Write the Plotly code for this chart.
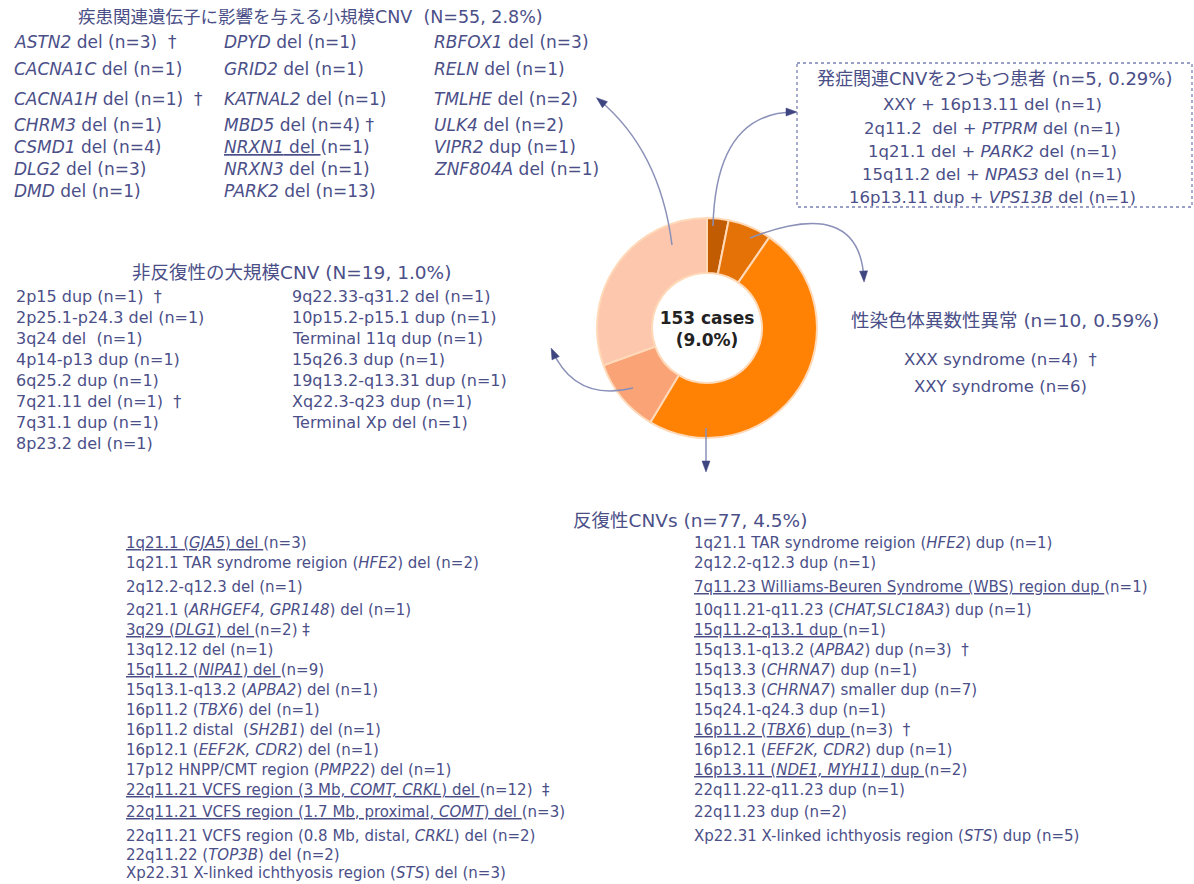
import math
import plotly.graph_objects as go

W, H = 1194, 884
TXT = "#4b4f88"
FONT = "DejaVu Sans, Noto Sans CJK JP"

# ---- donut data ----
slice_labels = ["発症関連CNVを2つもつ患者", "性染色体異数性異常", "反復性CNVs",
                "非反復性の大規模CNV", "疾患関連遺伝子に影響を与える小規模CNV"]
slice_pct = [0.29, 0.59, 4.5, 1.0, 2.8]
slice_colors = ["#c25c02", "#e57206", "#ff8205", "#f9a377", "#fdc7ae"]
center_text = "<b>153 cases<br>(9.0%)</b>"

# ---- text blocks ----
small_title = "疾患関連遺伝子に影響を与える小規模CNV  (N=55, 2.8%)"
small_col1 = ["<i>ASTN2</i> del (n=3)  †", "<i>CACNA1C</i> del (n=1)", "<i>CACNA1H</i> del (n=1)  †",
              "<i>CHRM3</i> del (n=1)", "<i>CSMD1</i> del (n=4)", "<i>DLG2</i> del (n=3)", "<i>DMD</i> del (n=1)"]
small_col2 = ["<i>DPYD</i> del (n=1)", "<i>GRID2</i> del (n=1)", "<i>KATNAL2</i> del (n=1)",
              "<i>MBD5</i> del (n=4) †", "<u><i>NRXN1</i> del </u>(n=1)", "<i>NRXN3</i> del (n=1)",
              "<i>PARK2</i> del (n=13)"]
small_col3 = ["<i>RBFOX1</i> del (n=3)", "<i>RELN</i> del (n=1)", "<i>TMLHE</i> del (n=2)",
              "<i>ULK4</i> del (n=2)", "<i>VIPR2</i> dup (n=1)", "<i>ZNF804A</i> del (n=1)"]
small_rows = [42, 69, 99, 125, 147, 169, 191]

two_title = "発症関連CNVを2つもつ患者 (n=5, 0.29%)"
two_lines = ["XXY + 16p13.11 del (n=1)", "2q11.2  del + <i>PTPRM</i> del (n=1)",
             "1q21.1 del + <i>PARK2</i> del (n=1)", "15q11.2 del + <i>NPAS3</i> del (n=1)",
             "16p13.11 dup + <i>VPS13B</i> del (n=1)"]
two_rows = [104, 128, 151, 174, 197]

large_title = "非反復性の大規模CNV (N=19, 1.0%)"
large_col1 = ["2p15 dup (n=1)  †", "2p25.1-p24.3 del (n=1)", "3q24 del  (n=1)", "4p14-p13 dup (n=1)",
              "6q25.2 dup (n=1)", "7q21.11 del (n=1)  †", "7q31.1 dup (n=1)", "8p23.2 del (n=1)"]
large_col2 = ["9q22.33-q31.2 del (n=1)", "10p15.2-p15.1 dup (n=1)", "Terminal 11q dup (n=1)",
              "15q26.3 dup (n=1)", "19q13.2-q13.31 dup (n=1)", "Xq22.3-q23 dup (n=1)",
              "Terminal Xp del (n=1)"]
large_rows = [296, 317, 338, 359, 380, 401, 422, 443]

sex_title = "性染色体異数性異常 (n=10, 0.59%)"
sex_lines = ["XXX syndrome (n=4)  †", "XXY syndrome (n=6)"]
sex_rows = [359, 386]

rec_title = "反復性CNVs (n=77, 4.5%)"
rec_left = ["<u>1q21.1 (<i>GJA5</i>) del </u>(n=3)",
            "1q21.1 TAR syndrome reigion (<i>HFE2</i>) del (n=2)",
            "2q12.2-q12.3 del (n=1)",
            "2q21.1 (<i>ARHGEF4, GPR148</i>) del (n=1)",
            "<u>3q29 (<i>DLG1</i>) del </u>(n=2) ‡",
            "13q12.12 del (n=1)",
            "<u>15q11.2 (<i>NIPA1</i>) del </u>(n=9)",
            "15q13.1-q13.2 (<i>APBA2</i>) del (n=1)",
            "16p11.2 (<i>TBX6</i>) del (n=1)",
            "16p11.2 distal  (<i>SH2B1</i>) del (n=1)",
            "16p12.1 (<i>EEF2K, CDR2</i>) del (n=1)",
            "17p12 HNPP/CMT region (<i>PMP22</i>) del (n=1)",
            "<u>22q11.21 VCFS region (3 Mb, <i>COMT, CRKL</i>) del </u>(n=12)  ‡",
            "<u>22q11.21 VCFS region (1.7 Mb, proximal, <i>COMT</i>) del </u>(n=3)",
            "22q11.21 VCFS region (0.8 Mb, distal, <i>CRKL</i>) del (n=2)",
            "22q11.22 (<i>TOP3B</i>) del (n=2)",
            "Xp22.31 X-linked ichthyosis region (<i>STS</i>) del (n=3)"]
rec_left_rows = [543, 563, 587, 610, 630, 650, 670, 690, 710, 730, 750, 770, 790, 812, 836, 855, 873]
rec_right = ["1q21.1 TAR syndrome reigion (<i>HFE2</i>) dup (n=1)",
             "2q12.2-q12.3 dup (n=1)",
             "<u>7q11.23 Williams-Beuren Syndrome (WBS) region dup </u>(n=1)",
             "10q11.21-q11.23 (<i>CHAT,SLC18A3</i>) dup (n=1)",
             "<u>15q11.2-q13.1 dup </u>(n=1)",
             "15q13.1-q13.2 (<i>APBA2</i>) dup (n=3)  †",
             "15q13.3 (<i>CHRNA7</i>) dup (n=1)",
             "15q13.3 (<i>CHRNA7</i>) smaller dup (n=7)",
             "15q24.1-q24.3 dup (n=1)",
             "<u>16p11.2 (<i>TBX6</i>) dup </u>(n=3)  †",
             "16p12.1 (<i>EEF2K, CDR2</i>) dup (n=1)",
             "<u>16p13.11 (<i>NDE1, MYH11</i>) dup </u>(n=2)",
             "22q11.22-q11.23 dup (n=1)",
             "22q11.23 dup (n=2)",
             "Xp22.31 X-linked ichthyosis region (<i>STS</i>) dup (n=5)"]
rec_right_rows = [543, 563, 587, 610, 630, 650, 670, 690, 710, 730, 750, 770, 790, 812, 836]

# ---- figure ----
cx, cy, R = 707, 328, 110
fig = go.Figure()
fig.add_trace(go.Pie(
    labels=slice_labels, values=slice_pct, sort=False, direction="clockwise", rotation=0,
    hole=0.5, textinfo="none", hoverinfo="label+value", showlegend=False,
    marker=dict(colors=slice_colors, line=dict(color="#ffd9b8", width=2)),
    title=dict(text=center_text, position="middle center",
               font=dict(family="DejaVu Sans", size=17, color="#222222")),
    domain=dict(x=[(cx - R) / W, (cx + R) / W], y=[1 - (cy + R) / H, 1 - (cy - R) / H]),
))

ann = []


def txt(x, y, s, size, anchor="left", color=TXT):
    ann.append(dict(x=x, y=y, xref="x", yref="y", text=s, showarrow=False,
                    xanchor=anchor, yanchor="middle", align=anchor,
                    font=dict(family=FONT, size=size, color=color)))


txt(310, 17, small_title, 17.5, "center")
for col, x in ((small_col1, 12), (small_col2, 222), (small_col3, 432)):
    for s, y in zip(col, small_rows):
        txt(x, y, s, 17)

txt(994, 78, two_title, 18, "center")
for s, y in zip(two_lines, two_rows):
    txt(992, y, s, 16.5, "center")

txt(291, 272, large_title, 18.5, "center")
for s, y in zip(large_col1, large_rows):
    txt(14, y, s, 16)
for s, y in zip(large_col2, large_rows):
    txt(290, y, s, 16)

txt(1005, 320, sex_title, 18.5, "center")
for s, y in zip(sex_lines, sex_rows):
    txt(1000, y, s, 16.5, "center")

txt(690, 520, rec_title, 18.5, "center")
for s, y in zip(rec_left, rec_left_rows):
    txt(124, y, s, 15)
for s, y in zip(rec_right, rec_right_rows):
    txt(692, y, s, 15)

shapes = []
LINE = "#8a90b8"
HEAD = "#3f4580"


def arrow(p0, c, p1):
    shapes.append(dict(type="path", xref="x", yref="y",
                       path=f"M {p0[0]},{p0[1]} Q {c[0]},{c[1]} {p1[0]},{p1[1]}",
                       line=dict(color=LINE, width=1.5)))
    dx, dy = p1[0] - c[0], p1[1] - c[1]
    n = math.hypot(dx, dy)
    ux, uy = dx / n, dy / n
    L, Wd = 9, 4
    bx, by = p1[0] - ux * L, p1[1] - uy * L
    px, py = -uy * Wd, ux * Wd
    shapes.append(dict(type="path", xref="x", yref="y",
                       path=f"M {p1[0]+ux*2},{p1[1]+uy*2} L {bx+px},{by+py} L {bx-px},{by-py} Z",
                       fillcolor=HEAD, line=dict(color=HEAD, width=0.5)))


arrow((672, 245), (660, 150), (598, 99))
arrow((713, 226), (716, 112), (795, 112))
arrow((750, 238), (860, 195), (864, 280))
arrow((633, 388), (575, 402), (552, 350))
arrow((706, 428), (706, 450), (706, 470))

shapes.append(dict(type="rect", xref="x", yref="y", x0=797, x1=1192, y0=63, y1=207,
                   line=dict(color="#7a80b2", width=1.3, dash="dot")))

fig.update_layout(
    width=W, height=H, margin=dict(l=0, r=0, t=0, b=0),
    paper_bgcolor="white", plot_bgcolor="rgba(0,0,0,0)",
    xaxis=dict(range=[0, W], visible=False, fixedrange=True),
    yaxis=dict(range=[H, 0], visible=False, fixedrange=True),
    annotations=ann, shapes=shapes, showlegend=False,
)

fig.write_html("out.html", config={"displayModeBar": False},
               post_script="document.body.style.margin='0';document.body.style.overflow='hidden';")
